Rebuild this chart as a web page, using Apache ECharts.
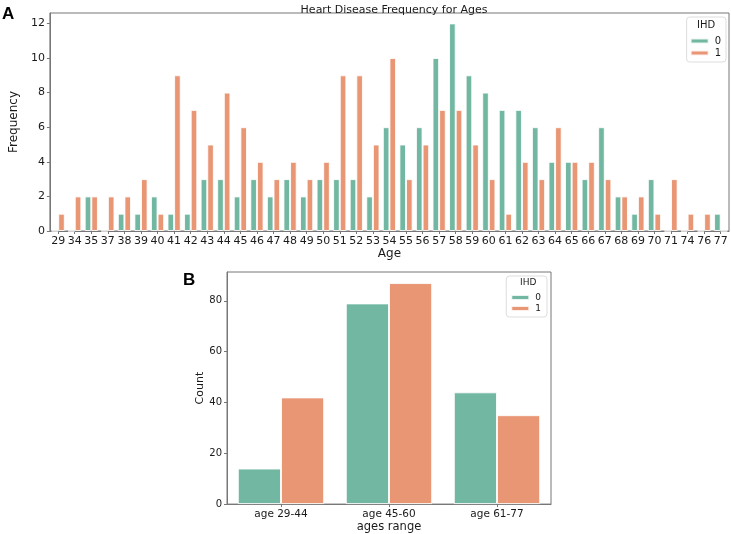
<!DOCTYPE html>
<html>
<head>
<meta charset="utf-8">
<script src="https://cdn.jsdelivr.net/npm/echarts@6/dist/echarts.min.js"></script>
<style>
html,body{margin:0;padding:0;background:#fff;}
#chart{width:731px;height:534px;}
</style>
</head>
<body>
<div id="chart"></div>
<script>
const ages = ['29','34','35','37','38','39','40','41','42','43','44','45','46','47','48','49','50','51','52','53','54','55','56','57','58','59','60','61','62','63','64','65','66','67','68','69','70','71','74','76','77'];
const freqIHD0 = [0,0,2,0,1,1,2,1,1,3,3,2,3,2,3,2,3,3,3,2,6,5,6,10,12,9,8,7,7,6,4,4,3,6,2,1,3,0,0,0,1];
const freqIHD1 = [1,2,2,2,2,3,1,9,7,5,8,6,4,3,4,3,4,9,9,5,10,3,5,7,7,5,3,1,4,3,6,4,4,3,2,2,1,3,1,1,0];
const freqTicks = [0,2,4,6,8,10,12];

const ranges = ['age 29-44','age 45-60','age 61-77'];
const countIHD0 = [14,79,44];
const countIHD1 = [42,87,35];
const countTicks = [0,20,40,60,80];

const seriesNames = ['0','1'];
const colors = ['#71b7a1','#e99675'];

const FONT = 'DejaVu Sans';
const TXT = '#1a1a1a';
const SPINE = '#777';

const chart = echarts.init(document.getElementById('chart'), null, {renderer:'canvas'});

function catAxis(gridIndex, data, name, fs, nameGap){
  return {
    type:'category', gridIndex, data, name, nameLocation:'middle', nameGap,
    nameTextStyle:{fontFamily:FONT,fontSize:fs+1,color:TXT},
    axisLine:{lineStyle:{color:SPINE,width:1}},
    axisTick:{show:true,alignWithLabel:true,length:3,lineStyle:{color:SPINE}},
    axisLabel:{interval:0,fontFamily:FONT,fontSize:fs,color:TXT,margin:5},
    splitLine:{show:false}
  };
}
function valAxis(gridIndex, max, ticks, name, fs, nameGap){
  return {
    type:'value', gridIndex, min:0, max, name, nameLocation:'middle', nameGap,
    nameTextStyle:{fontFamily:FONT,fontSize:fs+1,color:TXT},
    axisLine:{show:true,lineStyle:{color:SPINE,width:1}},
    axisTick:{show:true,length:3,lineStyle:{color:SPINE},customValues:ticks},
    axisLabel:{fontFamily:FONT,fontSize:fs,color:TXT,margin:5,customValues:ticks},
    splitLine:{show:false}
  };
}
function barSeries(name, xi, data, color){
  return {
    type:'bar', name, xAxisIndex:xi, yAxisIndex:xi, data,
    barGap:'0%', barCategoryGap:'20%',
    itemStyle:{color, borderColor:'rgba(255,255,255,0.85)', borderWidth:1},
    emphasis:{disabled:true}, animation:false
  };
}
function legendCfg(top, right, fs, pad){
  return {
    show:true, orient:'vertical', top, right, data:seriesNames, z:5,
    icon:'rect', itemWidth:18, itemHeight:5, itemGap:2,
    padding:pad, backgroundColor:'#fff', borderColor:'#ddd', borderWidth:1, borderRadius:3,
    textStyle:{fontFamily:FONT,fontSize:fs,color:TXT,padding:[0,0,0,1]},
    selectedMode:false
  };
}

const option = {
  animation:false,
  color:colors,
  title:{
    text:'Heart Disease Frequency for Ages', left:389, top:0, textAlign:'center',
    textStyle:{fontFamily:FONT,fontSize:11,fontWeight:'normal',color:TXT}
  },
  grid:[
    {left:49, right:2, top:13, bottom:303, show:true, borderColor:SPINE, borderWidth:1, backgroundColor:'transparent'},
    {left:227, right:180, top:272, bottom:28, show:true, borderColor:SPINE, borderWidth:1, backgroundColor:'transparent'}
  ],
  xAxis:[
    catAxis(0, ages, 'Age', 11, 17),
    catAxis(1, ranges, 'ages range', 10.5, 16)
  ],
  yAxis:[
    valAxis(0, 12.6, freqTicks, 'Frequency', 11, 22),
    valAxis(1, 91.35, countTicks, 'Count', 10, 18)
  ],
  legend:[
    legendCfg(17, 5, 10, [19,5,4,3]),
    legendCfg(276, 184, 9, [17,6,4,4])
  ],
  graphic:[
    {type:'text', z:100, zlevel:1, left:2, top:6, style:{text:'A', font:'bold 17px "Liberation Sans", Arial, sans-serif', fill:'#000'}},
    {type:'text', z:100, zlevel:1, left:183, top:272, style:{text:'B', font:'bold 17px "Liberation Sans", Arial, sans-serif', fill:'#000'}},
    {type:'text', z:100, zlevel:1, left:697, top:20, style:{text:'IHD', font:'10px "DejaVu Sans"', fill:TXT}},
    {type:'text', z:100, zlevel:1, left:520, top:278, style:{text:'IHD', font:'9px "DejaVu Sans"', fill:TXT}}
  ],
  series:[
    barSeries(seriesNames[0], 0, freqIHD0, colors[0]),
    barSeries(seriesNames[1], 0, freqIHD1, colors[1]),
    barSeries(seriesNames[0], 1, countIHD0, colors[0]),
    barSeries(seriesNames[1], 1, countIHD1, colors[1])
  ]
};
chart.setOption(option);
</script>
</body>
</html>
